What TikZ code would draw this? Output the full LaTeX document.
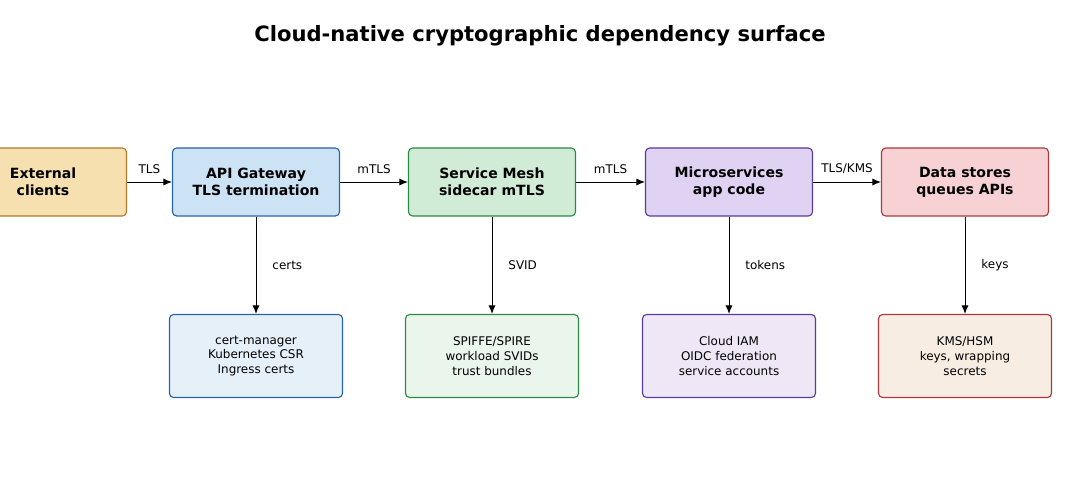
\documentclass[tikz,border=0pt]{standalone}
\usepackage{fontspec}
\setmainfont{DejaVu Sans}
\usetikzlibrary{positioning,arrows.meta}
\definecolor{extfill}{HTML}{F6E0B0}\definecolor{extline}{HTML}{B07A2A}
\definecolor{apifill}{HTML}{CCE3F5}\definecolor{apiline}{HTML}{2A64A8}
\definecolor{mshfill}{HTML}{D0EBD6}\definecolor{mshline}{HTML}{2E8B44}
\definecolor{micfill}{HTML}{E0D2F3}\definecolor{micline}{HTML}{5B3A9A}
\definecolor{datfill}{HTML}{F7D1D4}\definecolor{datline}{HTML}{A83A40}
\definecolor{apilow}{HTML}{E6F0F9}\definecolor{mshlow}{HTML}{EAF5EC}
\definecolor{miclow}{HTML}{EFE6F6}\definecolor{datlow}{HTML}{F8EDE3}
\tikzset{
  tier/.style={draw, rounded corners=3pt, line width=0.8pt, minimum width=4.175cm,
    minimum height=1.7cm, align=center, font=\bfseries\fontsize{10}{12}\selectfont},
  store/.style={draw, rounded corners=3pt, line width=0.8pt, minimum width=4.325cm,
    minimum height=2.075cm, align=center, font=\fontsize{8.5}{10.5}\selectfont},
  link/.style={-{Latex[length=6pt,width=5pt]}, line width=0.7pt},
  lbl/.style={font=\fontsize{8.5}{10}\selectfont}
}
\begin{document}
\begin{tikzpicture}[x=0.025cm,y=-0.025cm]
  \useasboundingbox (0,0) rectangle (1080,501);
  \begin{scope}
    \clip (0,0) rectangle (1080,501);
    \node[tier, fill=extfill, draw=extline] (ext) at (43,182) {External\\clients};
  \end{scope}
  \node[font=\bfseries\fontsize{15}{18}\selectfont] (title) at (540,36) {Cloud-native cryptographic dependency surface};

  % upper tier
  \node[tier, fill=apifill, draw=apiline] (api) at (256,182) {API Gateway\\TLS termination};
  \node[tier, fill=mshfill, draw=mshline] (mesh) at (492,182) {Service Mesh\\sidecar mTLS};
  \node[tier, fill=micfill, draw=micline] (micro) at (729,182) {Microservices\\app code};
  \node[tier, fill=datfill, draw=datline] (data) at (965,182) {Data stores\\queues APIs};

  % lower tier
  \node[store, fill=apilow, draw=apiline] (cert) at (256,356) {cert-manager\\Kubernetes CSR\\Ingress certs};
  \node[store, fill=mshlow, draw=mshline] (spiffe) at (492,356) {SPIFFE/SPIRE\\workload SVIDs\\trust bundles};
  \node[store, fill=miclow, draw=micline] (iam) at (729,356) {Cloud IAM\\OIDC federation\\service accounts};
  \node[store, fill=datlow, draw=datline] (kms) at (965,356) {KMS/HSM\\keys, wrapping\\secrets};

  \draw[link] (127,182) -- node[lbl, above=2pt] {TLS} (api.west);
  \draw[link] (api) -- node[lbl, above=2pt] {mTLS} (mesh);
  \draw[link] (mesh) -- node[lbl, above=2pt] {mTLS} (micro);
  \draw[link] (micro) -- node[lbl, above=2pt] {TLS/KMS} (data);

  \draw[link] (api) -- node[lbl, right=8pt] {certs} (cert);
  \draw[link] (mesh) -- node[lbl, right=8pt] {SVID} (spiffe);
  \draw[link] (micro) -- node[lbl, right=8pt] {tokens} (iam);
  \draw[link] (data) -- node[lbl, right=8pt] {keys} (kms);
\end{tikzpicture}
\end{document}
